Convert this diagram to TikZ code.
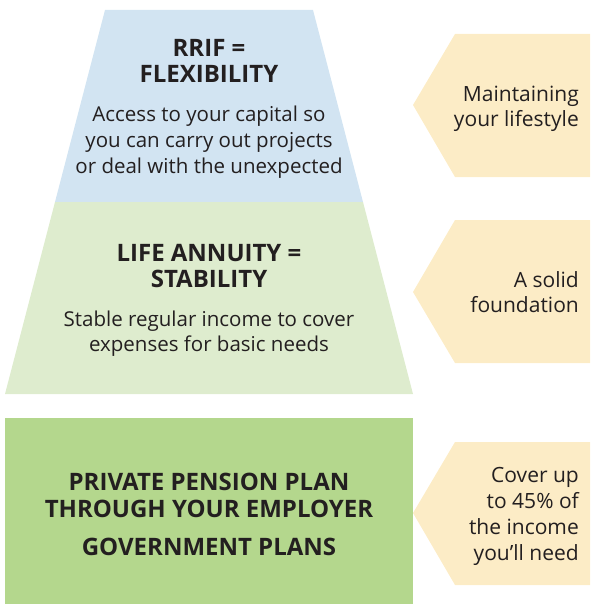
\documentclass[tikz,border=0pt]{standalone}
\usepackage{fontspec}
\setmainfont{Open Sans}
\definecolor{rrifblue}{RGB}{210,228,242}
\definecolor{annuitygreen}{RGB}{222,236,206}
\definecolor{plangreen}{RGB}{180,215,141}
\definecolor{cream}{RGB}{252,236,198}
\definecolor{ink}{RGB}{35,31,32}
\tikzset{
  titletext/.style={font=\bfseries\fontsize{24}{26}\selectfont, text=ink, align=center, inner sep=0pt},
  bodytext/.style={font=\fontsize{20.5}{26}\selectfont, text=ink, align=center, inner sep=0pt},
  sidetext/.style={font=\fontsize{21}{25}\selectfont, text=ink, align=right, inner sep=0pt, anchor=east},
  tag/.style={fill=cream, draw=none},
}
\begin{document}
\begin{tikzpicture}[x=1pt,y=-1pt]
\useasboundingbox (0,0) rectangle (590,604);
% pyramid
\fill[rrifblue] (105,10) -- (313,10) -- (363,202) -- (55,202) -- cycle;
\fill[annuitygreen] (55,202) -- (363,202) -- (413,394) -- (5,394) -- cycle;
\fill[plangreen] (5,418) rectangle (413,604);
% tags
\fill[tag] (413,105) -- (455,34) -- (590,34) -- (590,177) -- (455,177) -- cycle;
\fill[tag] (413,292) -- (455,220) -- (590,220) -- (590,363) -- (455,363) -- cycle;
\fill[tag] (413,513) -- (455,442) -- (590,442) -- (590,585) -- (455,585) -- cycle;
% texts
\node[titletext] (rriftitle) at (209,60.5) {RRIF =\\FLEXIBILITY};
\node[bodytext] (rrifbody) at (209,142) {Access to your capital so\\you can carry out projects\\or deal with the unexpected};
\node[titletext] (annuitytitle) at (209,266.5) {LIFE ANNUITY =\\STABILITY};
\node[bodytext, font=\fontsize{20.5}{25}\selectfont] (annuitybody) at (209,334) {Stable regular income to cover\\expenses for basic needs};
\node[titletext, font=\bfseries\fontsize{24}{27}\selectfont] (plantitle) at (209,495) {PRIVATE PENSION PLAN\\THROUGH YOUR EMPLOYER};
\node[titletext] (govtitle) at (209,546.5) {GOVERNMENT PLANS};
\node[sidetext] (side1) at (579,109) {Maintaining\\your lifestyle};
\node[sidetext] (side2) at (579,292.5) {A solid\\foundation};
\node[sidetext, font=\fontsize{21}{26}\selectfont] (side3) at (579,516.5) {Cover up\\to 45\% of\\the income\\you’ll need};
\end{tikzpicture}
\end{document}
